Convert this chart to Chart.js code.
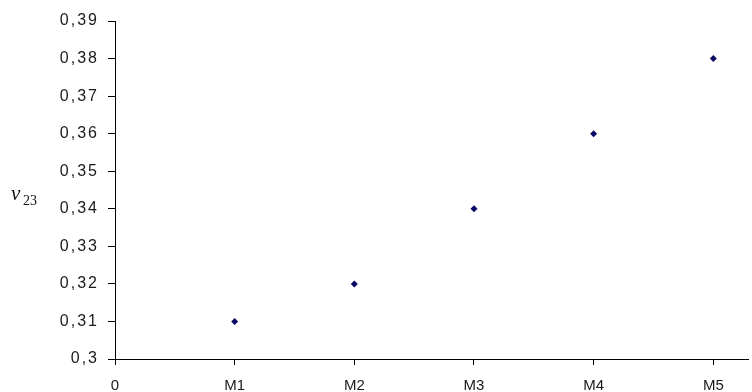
<!DOCTYPE html>
<html>
<head>
<meta charset="utf-8">
<script src="https://cdn.jsdelivr.net/npm/chart.js@4"></script>
<style>
  html, body { margin: 0; padding: 0; background: #fff; }
  #wrap { width: 752px; height: 392px; }
</style>
</head>
<body>
<div id="wrap"><canvas id="chart" width="752" height="392"></canvas></div>
<script>
  // data
  const categories = ['M1', 'M2', 'M3', 'M4', 'M5'];
  const positions = [1, 2, 3, 4, 5];
  const values = [0.31, 0.32, 0.34, 0.36, 0.38];
  const yTicks = [0.3, 0.31, 0.32, 0.33, 0.34, 0.35, 0.36, 0.37, 0.38, 0.39];

  function fmt(v) {
    return String(Math.round(v * 100) / 100).replace('.', ',');
  }

  // spaced-out digits on the y axis, like the original
  const spacedY = {
    id: 'spacedY',
    afterLayout(chart) {
      const y = chart.scales.y;
      if (y._patched) return;
      const orig = y.drawLabels;
      y.drawLabels = function (area) {
        const ctx = this.ctx;
        ctx.save();
        ctx.letterSpacing = '2px';
        orig.call(this, area);
        ctx.restore();
      };
      y._patched = true;
    }
  };

  // axis title nu_23 with a subscript
  const nuLabel = {
    id: 'nuLabel',
    afterDraw(chart) {
      const ctx = chart.ctx;
      ctx.save();
      ctx.fillStyle = '#111';
      ctx.textBaseline = 'alphabetic';
      ctx.font = 'italic 21px "Liberation Serif", serif';
      ctx.fillText('ν', 11, 200);
      ctx.font = '14px "Liberation Serif", serif';
      ctx.fillText('23', 23, 205);
      ctx.restore();
    }
  };

  const points = positions.map((x, i) => ({ x: x, y: values[i] }));

  new Chart(document.getElementById('chart'), {
    type: 'scatter',
    data: {
      datasets: [{
        data: points,
        backgroundColor: '#0a0a66',
        borderColor: '#0a0a66',
        pointStyle: 'rectRot',
        pointRadius: 3.5,
        borderWidth: 0
      }]
    },
    options: {
      responsive: false,
      animation: false,
      layout: { padding: { top: 21, right: 0, left: 0, bottom: 0 } },
      plugins: { legend: { display: false }, tooltip: { enabled: false } },
      scales: {
        x: {
          type: 'linear',
          min: 0,
          max: 5.29,
          afterBuildTicks(scale) {
            scale.ticks = [0].concat(positions).map(v => ({ value: v }));
          },
          afterFit(scale) { scale.height = 33; },
          grid: { drawOnChartArea: false, drawTicks: true, tickLength: 6, color: '#000' },
          border: { display: true, color: '#000', width: 1 },
          ticks: {
            color: '#1a1a1a',
            padding: 12,
            maxRotation: 0,
            font: { family: '"Liberation Sans", Arial, sans-serif', size: 15 },
            callback: v => v === 0 ? '0' : categories[positions.indexOf(v)]
          }
        },
        y: {
          min: 0.3,
          max: 0.39,
          afterBuildTicks(scale) {
            scale.ticks = yTicks.map(v => ({ value: v }));
          },
          afterFit(scale) { scale.width = 115; },
          grid: { drawOnChartArea: false, drawTicks: true, tickLength: 7, color: '#000' },
          border: { display: true, color: '#000', width: 1 },
          ticks: {
            color: '#1a1a1a',
            padding: 9,
            font: { family: '"Liberation Sans", Arial, sans-serif', size: 16 },
            callback: v => fmt(v)
          }
        }
      }
    },
    plugins: [spacedY, nuLabel]
  });
</script>
</body>
</html>
